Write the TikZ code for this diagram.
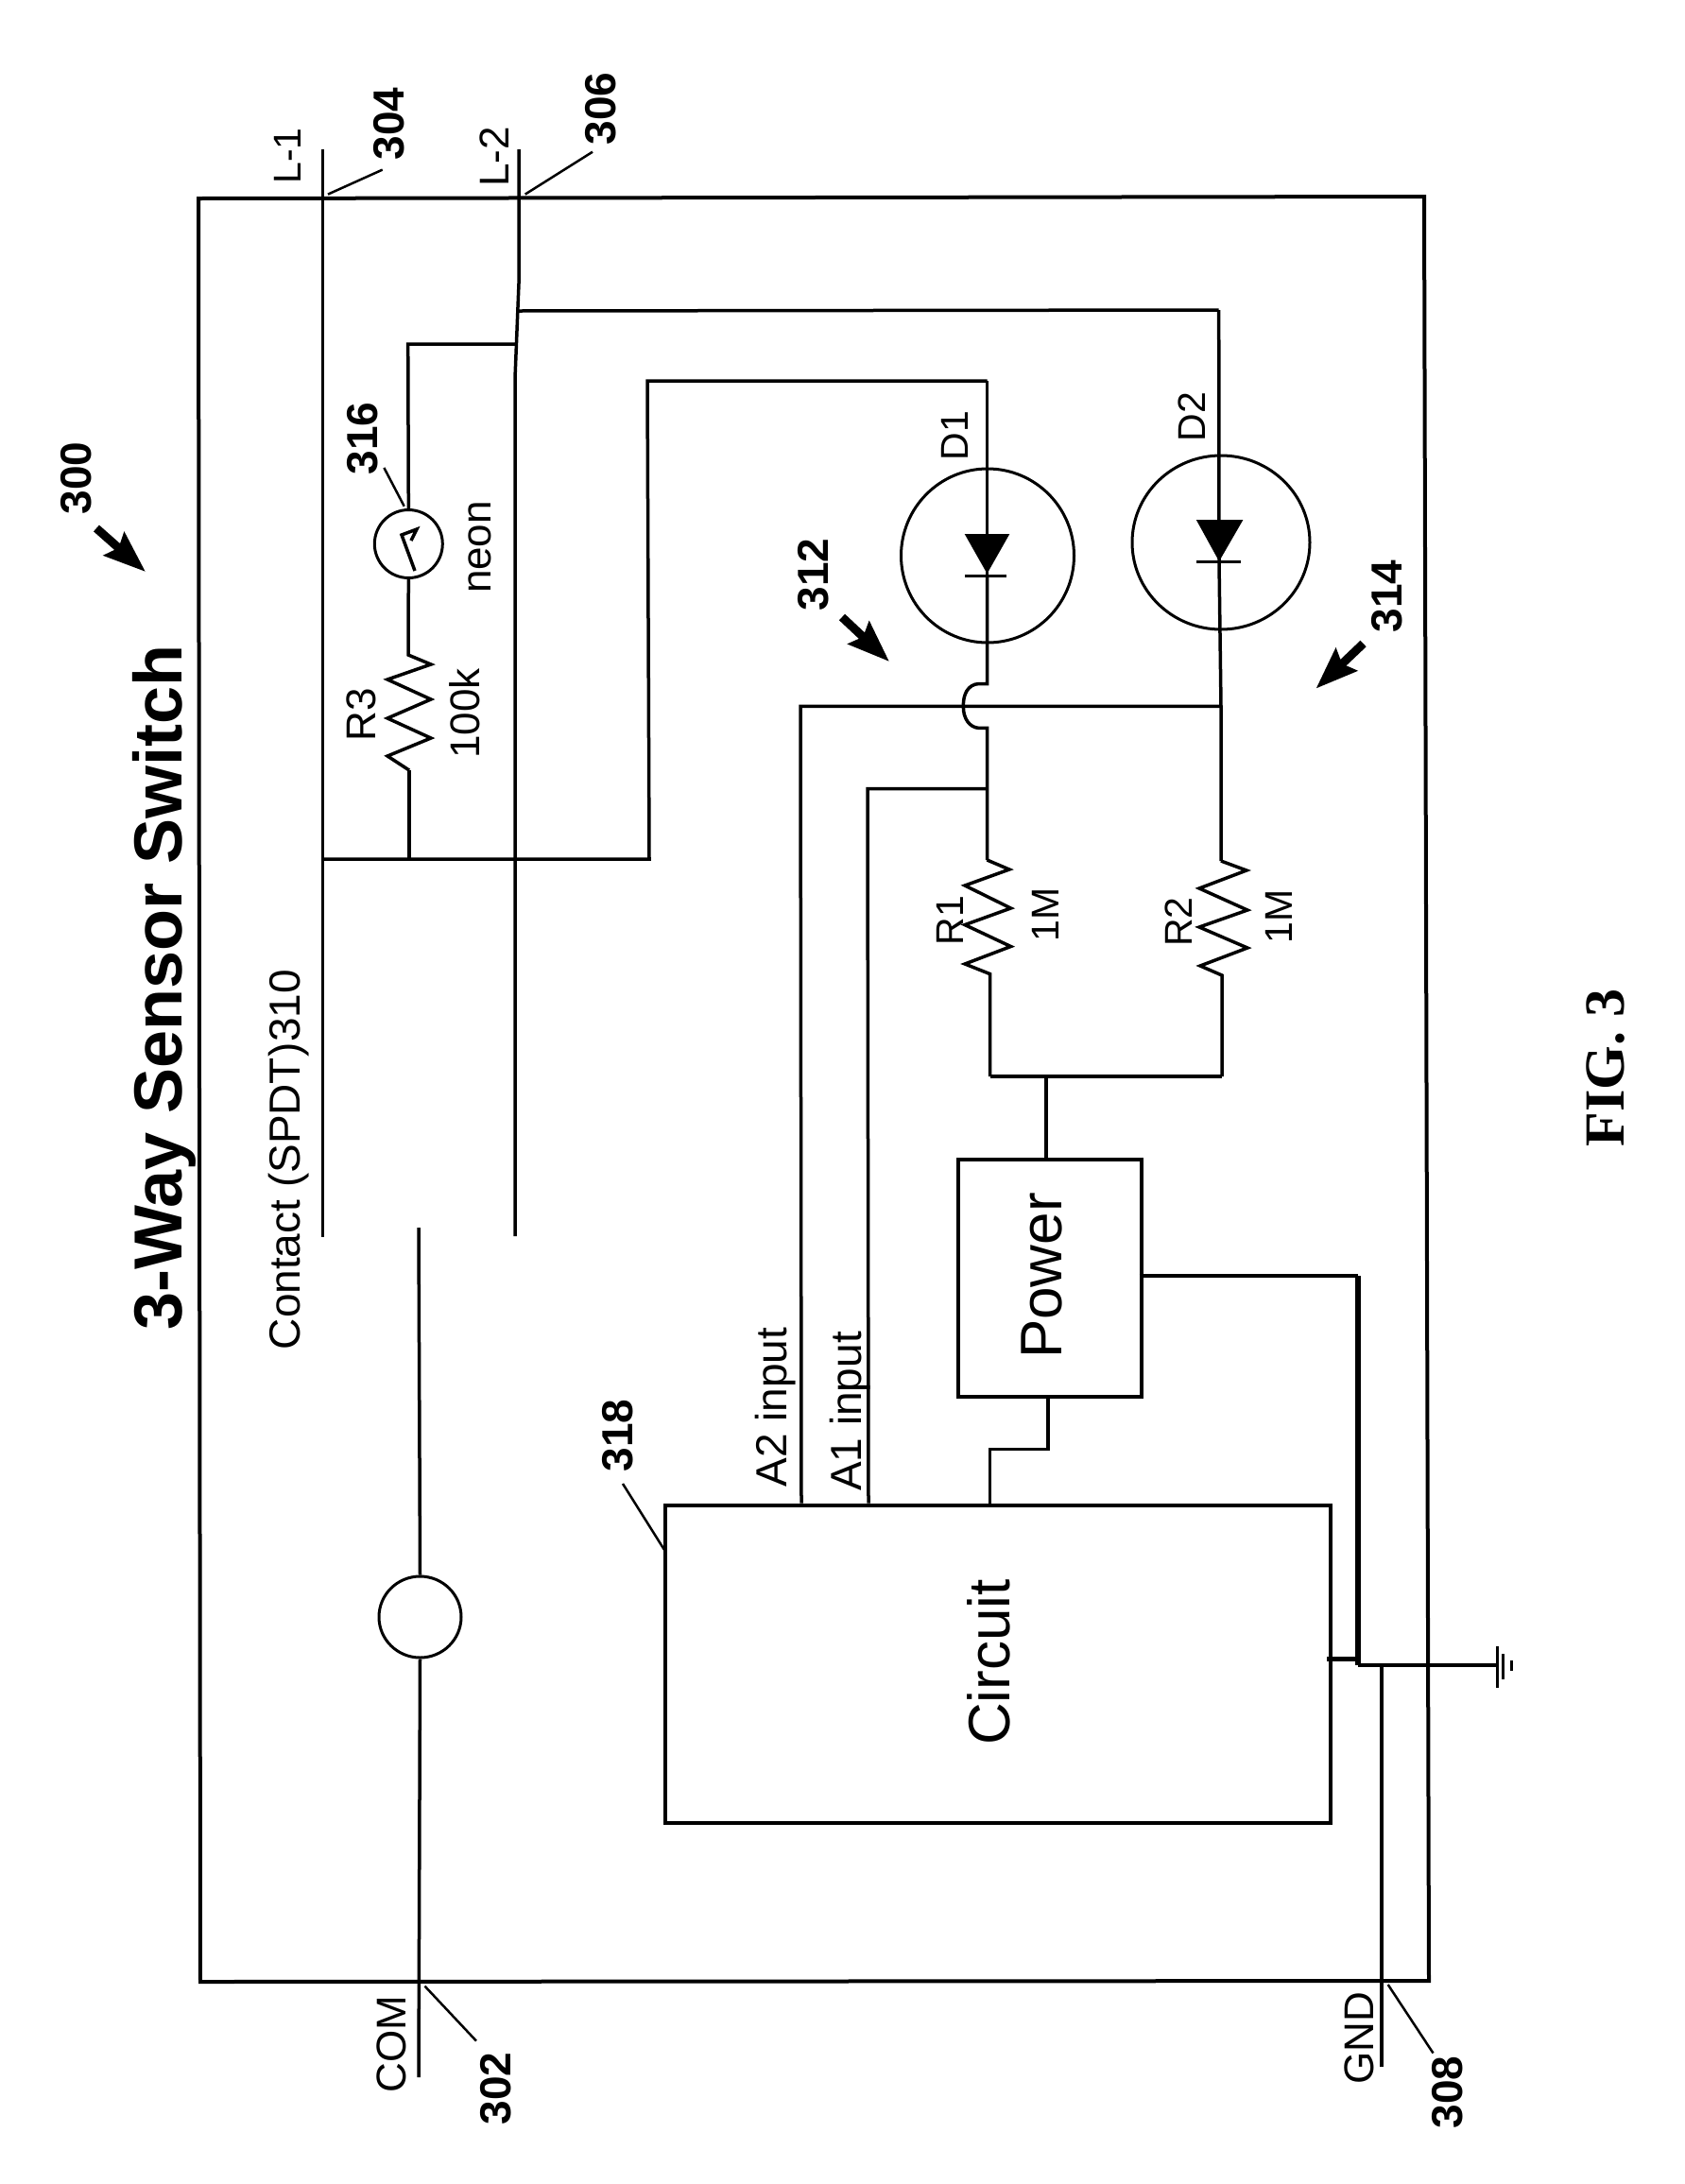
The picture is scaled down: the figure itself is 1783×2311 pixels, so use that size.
\documentclass[tikz,border=0pt]{standalone}
\usepackage{fontspec}
\setmainfont{Liberation Sans}
\newfontfamily\figfont{Liberation Serif}
\usetikzlibrary{arrows.meta,shapes.geometric}
\tikzset{
  wire/.style={draw=black,line width=3.5pt,line join=miter},
  thick wire/.style={draw=black,line width=6pt},
  thin wire/.style={draw=black,line width=3pt},
  leader/.style={draw=black,line width=2.5pt},
  blockbox/.style={draw=black,line width=4pt,inner sep=0pt,anchor=north west},
  lab/.style={rotate=90,anchor=base,inner sep=0pt,text=black,font=\fontsize{44}{44}\selectfont},
  lab small/.style={lab,font=\fontsize{41}{41}\selectfont},
  lab mid/.style={lab,font=\fontsize{46}{46}\selectfont},
  lab big/.style={lab,font=\fontsize{62}{62}\selectfont},
  ref/.style={lab,font=\fontsize{46}{46}\selectfont\bfseries},
  bigarrow/.style={draw=black,line width=9pt,-{Stealth[length=44pt,width=32pt,inset=6pt]}},
  ringshape/.style={ellipse,draw=black,line width=3pt,inner sep=0pt},
}
\begin{document}
\begin{tikzpicture}[x=1pt,y=-1pt]
\useasboundingbox (0,0) rectangle (1783,2311);
% enclosure
\coordinate (bTL) at (210,210);
\coordinate (bTR) at (1507,208);
\coordinate (bBR) at (1512,2096);
\coordinate (bBL) at (212,2097);
\draw[wire,line width=4pt] (bTL) -- (bTR) -- (bBR) -- (bBL) -- cycle;
% title
\node[lab,font=\fontsize{72}{72}\selectfont\bfseries] (title) at (192,1045) {3-Way Sensor Switch};
\node[ref] (n300) at (96,506) {300};
\coordinate (a300s) at (102,559);
\coordinate (a300e) at (154,605);
\draw[bigarrow] (a300s) -- (a300e);
% L-1, L-2
\coordinate (L1top) at (341.5,158);
\coordinate (L1bot) at (341.5,1309);
\coordinate (L1j) at (341.5,909);
\draw[wire] (L1top) -- (L1bot);
\coordinate (L2top) at (549,158);
\coordinate (L2a) at (549,300);
\coordinate (L2b) at (545,400);
\coordinate (L2bot) at (545,1308);
\draw[wire] (L2top) -- (L2a) -- (L2b) -- (L2bot);
\node[lab small] (tL1) at (318,165) {L-1};
\node[lab] (tL2) at (538,166) {L-2};
\node[ref] (n304) at (427.7,131) {304};
\node[ref] (n306) at (651.5,115) {306};
\coordinate (l304s) at (404.7,179.6);
\coordinate (l304e) at (347,205.6);
\coordinate (l306s) at (627,160.7);
\coordinate (l306e) at (555.7,205.6);
\draw[leader] (l304s) -- (l304e);
\draw[leader] (l306s) -- (l306e);
% neon branch
\node[ringshape,minimum width=72pt,minimum height=72pt] (neon) at (432.3,575.5) {};
\coordinate (njt) at (547,364);
\coordinate (ntop) at (431.7,364);
\draw[wire] (njt) -- (ntop) -- (neon.north);
\coordinate (gl1) at (439,604);
\coordinate (gl2) at (425,566);
\coordinate (gl3) at (441,560);
\coordinate (gl4) at (435,572);
\draw[wire] (gl1) -- (gl2) -- (gl3) -- (gl4);
\coordinate (r3s) at (432,693);
\coordinate (r3e) at (433,815);
\draw[wire] (neon.south) -- (r3s) -- (456,703) -- (410,719) -- (456,740) -- (410,760) -- (456,781) -- (410,800) -- (r3e);
\coordinate (r3j) at (433,909);
\draw[wire] (r3e) -- (r3j);
\node[ref] (n316) at (399,464) {316};
\coordinate (l316s) at (406.4,495);
\coordinate (l316e) at (427.7,535.7);
\draw[leader] (l316s) -- (l316e);
\node[lab] (tneon) at (519.5,579) {neon};
\node[lab] (tR3) at (397,756) {R3};
\node[lab] (t100k) at (507,755) {100k};
% contact line & D1 feed
\coordinate (ik) at (687,909);
\coordinate (ikt) at (685,403);
\coordinate (d1t) at (1044.5,403);
\draw[wire] (L1j) -- (ik) -- (ikt) -- (d1t);
% D2 feed
\coordinate (d2j) at (547,329);
\coordinate (d2t) at (1289.7,328);
\draw[wire] (d2j) -- (d2t);
% contact label
\node[lab mid] (tcontact) at (317,1227) {Contact (SPDT)\kern1pt 310};
% swing arm
\node[ringshape,minimum width=87pt,minimum height=86pt] (relay) at (444.5,1711) {};
\coordinate (armtop) at (443,1299);
\coordinate (armbot) at (443,2198);
\draw[wire] (armtop) -- (relay.north);
\draw[wire] (relay.south) -- (armbot);
\node[lab] (tCOM) at (429,2163) {COM};
\node[ref] (n302) at (540,2210) {302};
\coordinate (l302s) at (449.5,2101.6);
\coordinate (l302e) at (504,2159.6);
\draw[leader] (l302s) -- (l302e);
% D1
\node[ringshape,minimum width=183pt,minimum height=184pt] (D1c) at (1045,588) {};
\coordinate (d1b) at (1044.5,609.7);
\coordinate (d1h) at (1044.5,723.5);
\coordinate (d1i) at (1044.5,770.4);
\coordinate (d1j) at (1044.5,834.7);
\coordinate (r1s) at (1044.5,910);
\draw[wire] (d1t) -- (d1b);
\fill (1020.7,565) -- (1068.3,565) -- (1044.5,607) -- cycle;
\draw[wire] (1021,609.7) -- (1064.6,609.7);
\draw[wire] (d1b) -- (d1h) -- (1036,723.5) .. controls (1024,724) and (1019,735) .. (1019.4,747.4) .. controls (1019,760) and (1026,770) .. (1036,770.4) -- (d1i) -- (r1s);
\node[lab small] (tD1) at (1024,461) {D1};
\node[ref] (n312) at (876.5,608) {312};
\coordinate (a312s) at (891,653);
\coordinate (a312e) at (941,700);
\draw[bigarrow] (a312s) -- (a312e);
% D2
\node[ringshape,minimum width=188pt,minimum height=184pt] (D2c) at (1292,574) {};
\coordinate (d2b) at (1290,594.4);
\coordinate (d2j2) at (1292,747.4);
\coordinate (r2s) at (1292,911);
\draw[wire] (d2t) -- (d2b) -- (d2j2) -- (r2s);
\fill (1265.8,550) -- (1315.4,550) -- (1290,594) -- cycle;
\draw[wire] (1266,594.4) -- (1313,594.4);
\node[lab small] (tD2) at (1275,441) {D2};
\node[ref] (n314) at (1483,631) {314};
\coordinate (a314s) at (1442.6,681);
\coordinate (a314e) at (1392.5,728.6);
\draw[bigarrow] (a314s) -- (a314e);
% resistors
\coordinate (r1e) at (1047.6,1030.6);
\coordinate (r1b) at (1047.6,1139);
\draw[wire] (r1s) -- (1068,920) -- (1021,937) -- (1069.6,961) -- (1021,978.6) -- (1069.6,1001.5) -- (1021,1020) -- (r1e) -- (r1b);
\coordinate (r2e) at (1293,1032);
\coordinate (r2b) at (1293,1139);
\draw[wire] (r2s) -- (1319,921) -- (1269,940) -- (1320,963) -- (1269,981) -- (1320,1003) -- (1270,1022) -- (r2e) -- (r2b);
\draw[wire] (r1b) -- (r2b);
\node[lab small] (tR1) at (1019,974) {R1};
\node[lab small] (tM1) at (1120,968) {1M};
\node[lab small] (tR2) at (1261,975.5) {R2};
\node[lab small] (tM2) at (1367,970) {1M};
% power
\node[blockbox,minimum width=193.6pt,minimum height=251.5pt] (power) at (1012,1224.5) {};
\node[lab big] (tpower) at (1123,1350) {Power};
\coordinate (pj) at (1107,1139);
\draw[wire] (pj) -- (power.north -| pj);
% circuit
\node[blockbox,minimum width=703.5pt,minimum height=336.5pt] (circuit) at (702,1590.5) {};
\node[lab big] (tcircuit) at (1068,1759) {Circuit};
\node[ref] (n318) at (669,1519) {318};
\coordinate (l318s) at (659,1570);
\coordinate (l318e) at (703,1640);
\draw[leader] (l318s) -- (l318e);
% A2 / A1
\coordinate (a2t) at (847,747.4);
\coordinate (a2b) at (848,1590.5);
\draw[wire] (a2b) -- (a2t) -- (d2j2);
\coordinate (a1t) at (918,834.7);
\coordinate (a1b) at (919,1590.5);
\draw[wire] (a1b) -- (a1t) -- (d1j);
\node[lab mid] (tA2) at (832,1489) {A2 input};
\node[lab mid] (tA1) at (911.6,1493.5) {A1 input};
% power to circuit
\coordinate (pc1) at (1109,1476);
\coordinate (pc2) at (1109,1533.6);
\coordinate (pc3) at (1047.6,1533.6);
\coordinate (pc4) at (1047.6,1590.5);
\draw[wire] (pc1) -- (pc2) -- (pc3) -- (pc4);
% ground
\coordinate (po) at (1205.6,1350);
\coordinate (gc) at (1437,1350);
\coordinate (gm) at (1437,1762);
\coordinate (co) at (1404,1755);
\coordinate (coe) at (1437,1755);
\coordinate (gs) at (1584,1762);
\draw[wire] (po) -- (gc);
\draw[thick wire] (gc) -- (gm);
\draw[wire] (gm) -- (gs);
\draw[wire,line width=5pt] (co) -- (coe);
\coordinate (gndt) at (1462,1762);
\coordinate (gndb) at (1462,2187);
\draw[wire] (gndt) -- (gndb);
\coordinate (g1a) at (1584,1742);
\coordinate (g1b) at (1584,1786);
\coordinate (g2a) at (1590,1750);
\coordinate (g2b) at (1590,1777);
\coordinate (g3a) at (1599,1757);
\coordinate (g3b) at (1599,1768);
\draw[thin wire] (g1a) -- (g1b);
\draw[thin wire] (g2a) -- (g2b);
\draw[thin wire] (g3a) -- (g3b);
\node[lab] (tGND) at (1453,2157) {GND};
\node[ref] (n308) at (1547,2214) {308};
\coordinate (l308s) at (1468.7,2100);
\coordinate (l308e) at (1516.5,2172.5);
\draw[leader] (l308s) -- (l308e);
% figure label
\node[lab,font=\figfont\fontsize{60}{60}\selectfont\bfseries] (fig) at (1718.5,1130) {FIG. 3};
\end{tikzpicture}
\end{document}
